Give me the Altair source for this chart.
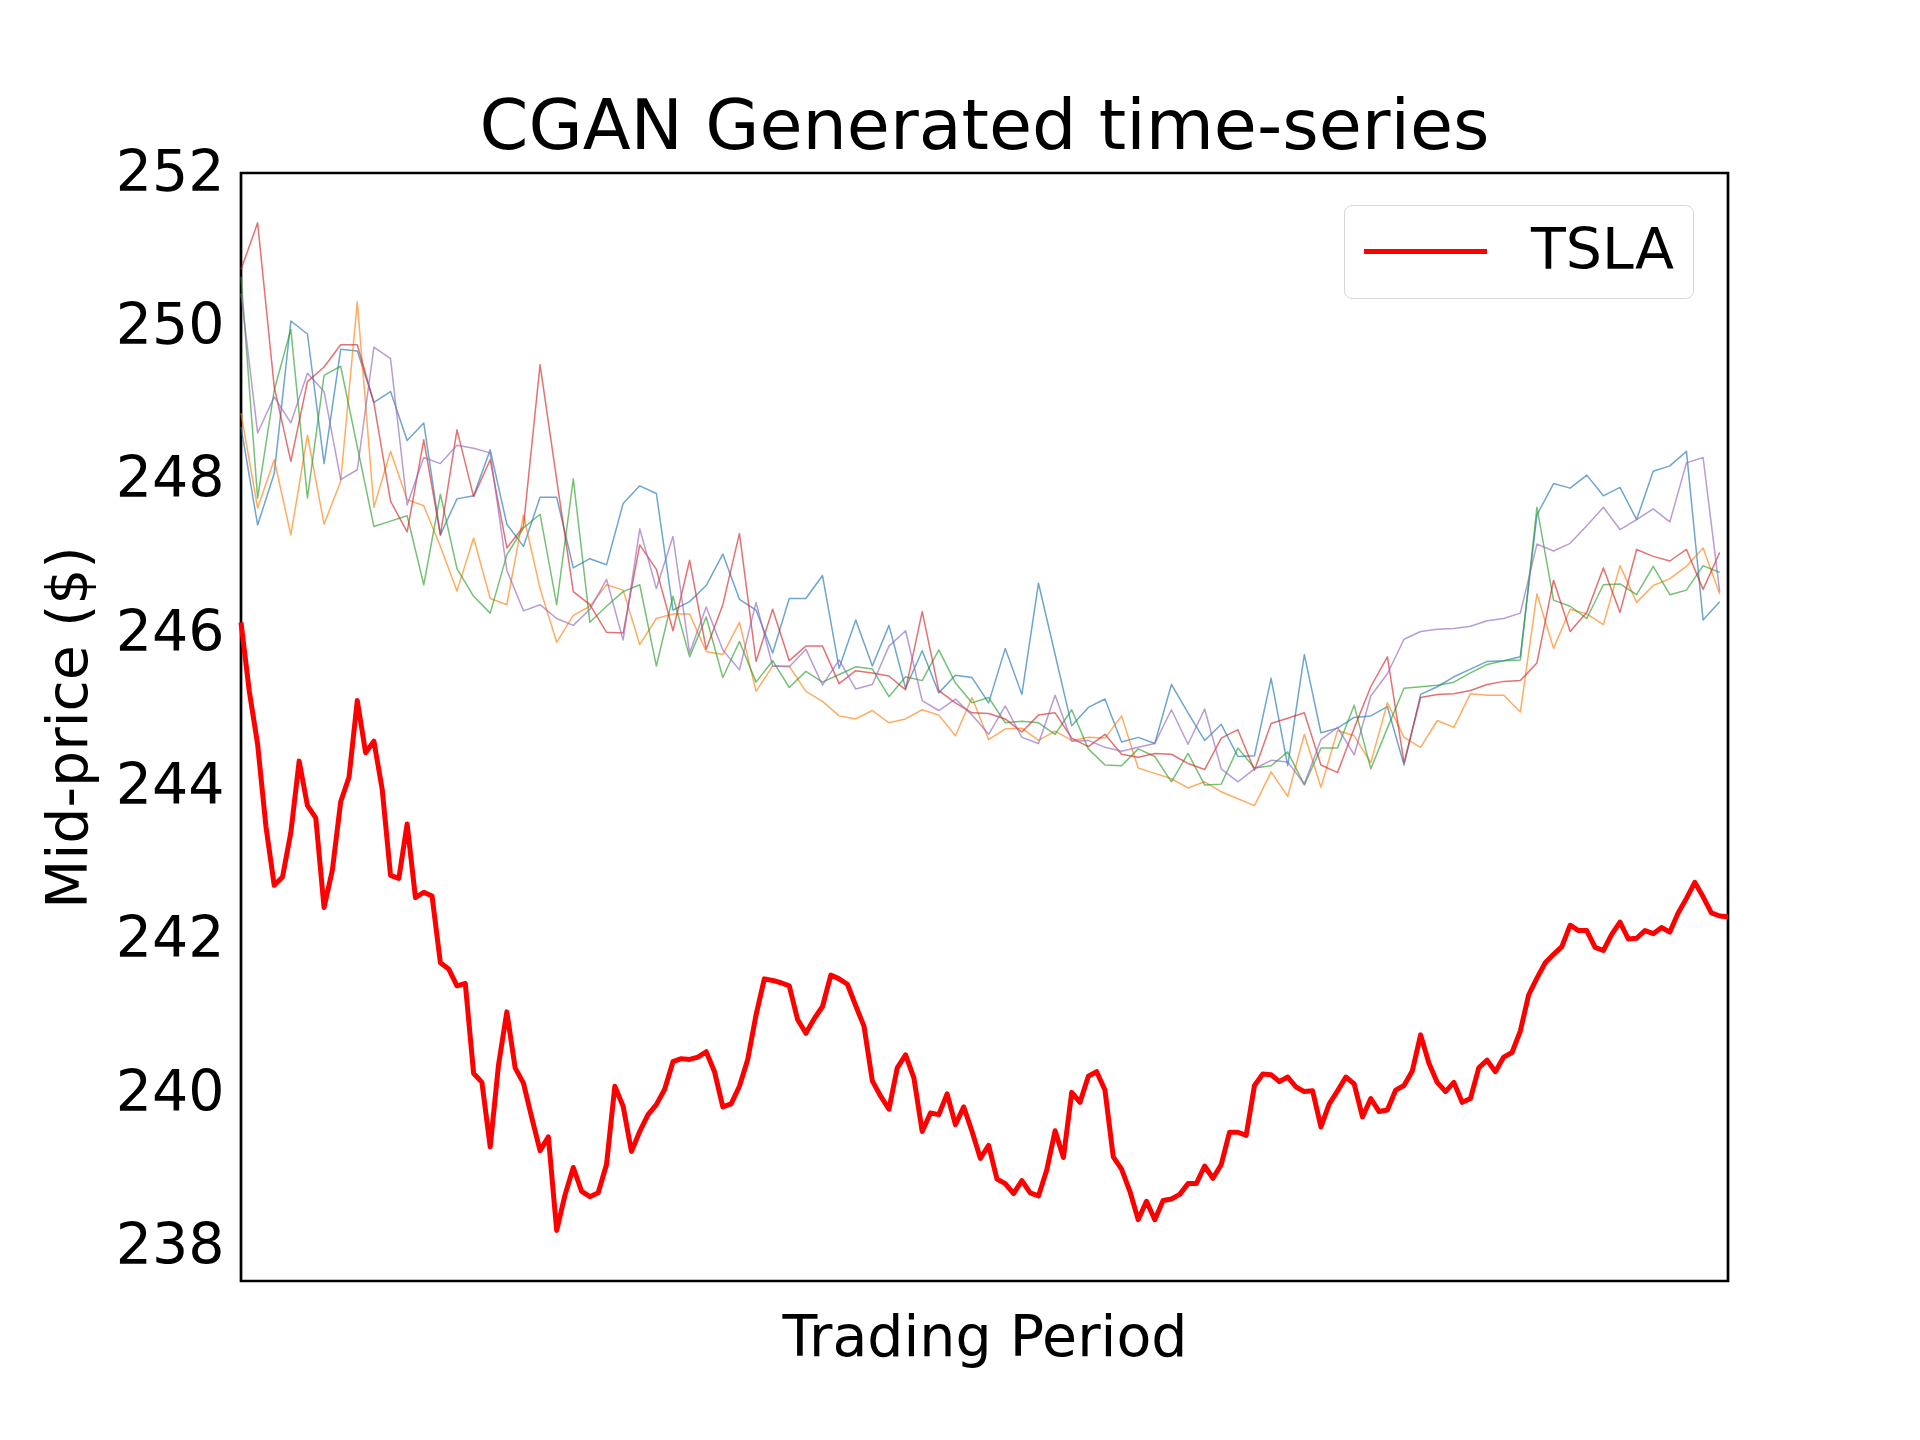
import altair as alt
import pandas as pd

# TSLA mid-price, 180 trading steps
tsla = [
    246.14, 245.24, 244.55, 243.48, 242.71, 242.82, 243.40, 244.33, 243.75, 243.59,
    242.42, 242.91, 243.80, 244.12, 245.12, 244.44, 244.59, 243.96, 242.84, 242.80,
    243.51, 242.55, 242.62, 242.57, 241.70, 241.62, 241.40, 241.43, 240.26, 240.14,
    239.30, 240.37, 241.06, 240.33, 240.13, 239.68, 239.25, 239.43, 238.21, 238.67,
    239.03, 238.72, 238.65, 238.70, 239.07, 240.09, 239.83, 239.24, 239.50, 239.72,
    239.85, 240.05, 240.41, 240.45, 240.44, 240.47, 240.54, 240.28, 239.82, 239.86,
    240.09, 240.44, 241.02, 241.49, 241.47, 241.44, 241.40, 240.96, 240.78, 240.97,
    241.13, 241.54, 241.49, 241.42, 241.14, 240.87, 240.16, 239.96, 239.79, 240.33,
    240.50, 240.20, 239.50, 239.74, 239.72, 239.99, 239.59, 239.82, 239.50, 239.15,
    239.32, 238.88, 238.82, 238.69, 238.86, 238.70, 238.66, 239.00, 239.51, 239.16,
    240.01, 239.88, 240.22, 240.28, 240.04, 239.17, 239.01, 238.72, 238.35, 238.59,
    238.35, 238.60, 238.62, 238.68, 238.82, 238.82, 239.05, 238.89, 239.07, 239.49,
    239.49, 239.45, 240.10, 240.25, 240.24, 240.15, 240.21, 240.08, 240.02, 240.03,
    239.56, 239.86, 240.03, 240.21, 240.12, 239.69, 239.93, 239.76, 239.78, 240.04,
    240.10, 240.29, 240.76, 240.39, 240.14, 240.02, 240.14, 239.88, 239.93, 240.33,
    240.43, 240.28, 240.47, 240.53, 240.81, 241.28, 241.50, 241.70, 241.81, 241.91,
    242.19, 242.12, 242.12, 241.90, 241.86, 242.07, 242.23, 242.01, 242.02, 242.12,
    242.08, 242.16, 242.10, 242.35, 242.54, 242.75, 242.56, 242.35, 242.31, 242.30,
]

# Five CGAN generated series, one value every 2 steps (90 points each)
gen_blue = [
    248.69, 247.41, 248.08, 250.07, 249.90, 248.21, 249.70, 249.68, 249.01, 249.15,
    248.51, 248.74, 247.28, 247.75, 247.79, 248.39, 247.42, 247.13, 247.77,
    247.77, 246.85, 246.97, 246.89, 247.69, 247.92, 247.82, 246.30, 246.41, 246.62,
    247.03, 246.44, 246.30, 245.74, 246.45, 246.45, 246.75, 245.54,
    246.17, 245.57, 246.10, 245.28, 245.77, 245.22, 245.45, 245.42, 245.09, 245.80,
    245.20, 246.65, 245.72, 244.79, 245.03, 245.14, 244.58, 244.64,
    244.56, 245.33, 244.96, 244.60, 244.81, 244.39, 244.40, 245.41, 244.27, 245.72,
    244.70, 244.76, 244.90, 244.92, 245.04, 244.28, 245.20, 245.30,
    245.43, 245.53, 245.63, 245.64, 245.69, 247.54, 247.95, 247.89, 248.06, 247.79,
    247.90, 247.48, 248.11, 248.18, 248.37, 246.17, 246.41,
]
gen_orange = [
    248.87, 247.63, 248.26, 247.28, 248.58, 247.42, 247.98, 250.32, 247.64, 248.37,
    247.74, 247.66, 247.13, 246.55, 247.24, 246.45, 246.37, 247.54, 246.58,
    245.88, 246.23, 246.35, 246.63, 246.56, 245.85, 246.19, 246.25, 246.25, 245.76,
    245.72, 246.14, 245.24, 245.57, 245.57, 245.24, 245.11, 244.92,
    244.88, 244.99, 244.83, 244.88, 245.00, 244.93, 244.66, 245.16, 244.61, 244.75,
    244.76, 244.60, 244.72, 244.60, 244.64, 244.63, 244.92, 244.24,
    244.17, 244.10, 243.98, 244.06, 243.93, 243.84, 243.75, 244.19, 243.87, 244.68,
    243.99, 244.73, 244.66, 244.31, 245.09, 244.64, 244.51, 244.86,
    244.77, 245.21, 245.19, 245.19, 244.97, 246.51, 245.80, 246.31, 246.25, 246.11,
    246.88, 246.40, 246.62, 246.71, 246.87, 247.11, 246.51,
]
gen_green = [
    250.65, 247.76, 249.17, 249.96, 247.76, 249.36, 249.48, 248.43, 247.39, 247.46,
    247.53, 246.63, 247.81, 246.84, 246.48, 246.26, 247.02, 247.37, 247.55,
    246.37, 248.01, 246.14, 246.35, 246.54, 246.63, 245.57, 246.48, 245.69, 246.21,
    245.42, 245.89, 245.36, 245.64, 245.29, 245.50, 245.36, 245.46,
    245.56, 245.53, 245.17, 245.43, 245.38, 245.78, 245.35, 245.09, 245.16, 244.83,
    244.85, 244.83, 244.68, 245.00, 244.49, 244.28, 244.27, 244.49,
    244.39, 244.06, 244.43, 244.02, 244.03, 244.50, 244.24, 244.27, 244.45, 244.02,
    244.50, 244.50, 245.06, 244.23, 244.76, 245.28, 245.30, 245.32,
    245.36, 245.48, 245.59, 245.64, 245.65, 247.64, 246.43, 246.35, 246.19, 246.63,
    246.64, 246.50, 246.87, 246.50, 246.56, 246.88, 246.79,
]
gen_red = [
    250.74, 251.35, 249.21, 248.24, 249.28, 249.47, 249.76, 249.76, 249.00, 247.72,
    247.32, 248.52, 247.28, 248.65, 247.78, 248.26, 247.11, 247.39, 249.50,
    248.00, 246.54, 246.37, 246.01, 246.00, 247.15, 246.83, 246.03, 246.95, 245.79,
    246.37, 247.30, 245.63, 246.31, 245.64, 245.83, 245.83, 245.34,
    245.51, 245.48, 245.44, 245.26, 246.28, 245.25, 245.09, 244.96, 244.95, 244.88,
    244.71, 244.93, 244.96, 244.63, 244.52, 244.68, 244.42, 244.38,
    244.43, 244.42, 244.30, 244.22, 244.63, 244.74, 244.21, 244.82, 244.89, 244.96,
    244.28, 244.18, 244.76, 245.30, 245.69, 244.31, 245.16, 245.20,
    245.21, 245.25, 245.33, 245.37, 245.38, 245.61, 246.69, 246.02, 246.27, 246.85,
    246.27, 247.09, 247.00, 246.94, 247.09, 246.57, 247.05,
]
gen_purple = [
    250.43, 248.61, 249.08, 248.74, 249.39, 249.15, 248.00, 248.13, 249.73, 249.58,
    247.67, 248.29, 248.21, 248.45, 248.41, 248.35, 246.82, 246.29, 246.37,
    246.19, 246.10, 246.31, 246.70, 245.91, 247.36, 246.58, 247.26, 245.74, 246.34,
    245.78, 245.52, 246.40, 245.57, 245.56, 245.79, 245.32, 245.65,
    245.27, 245.33, 245.83, 246.03, 245.12, 244.99, 245.14, 244.93, 244.68, 245.05,
    244.64, 244.56, 245.19, 244.59, 244.60, 244.51, 244.46, 244.51,
    244.56, 245.00, 244.55, 245.01, 244.23, 244.06, 244.23, 244.34, 244.32, 244.03,
    244.61, 244.77, 244.41, 245.18, 245.47, 245.92, 246.02, 246.05,
    246.06, 246.09, 246.16, 246.19, 246.26, 247.16, 247.07, 247.17, 247.40, 247.64,
    247.35, 247.48, 247.62, 247.45, 248.22, 248.29, 246.54,
]

gen_names = ["g0", "g1", "g2", "g3", "g4"]
gen_colors = ["#1f77b4", "#ff7f0e", "#2ca02c", "#d62728", "#9467bd"]
gen_series = [gen_blue, gen_orange, gen_green, gen_red, gen_purple]
y_ticks = [238, 240, 242, 244, 246, 248, 250, 252]

FONT = "DejaVu Sans"

gen_rows = []
for name, vals in zip(gen_names, gen_series):
    for k, v in enumerate(vals):
        gen_rows.append({"series": name, "x": 2 * k, "y": v})
gen_df = pd.DataFrame(gen_rows)

tsla_df = pd.DataFrame({"x": list(range(len(tsla))), "y": tsla, "name": "TSLA"})

x_enc = alt.X(
    "x:Q",
    scale=alt.Scale(domain=[0, 179], nice=False, zero=False),
    axis=alt.Axis(
        title="Trading Period", labels=False, ticks=False, domain=False, grid=False,
        titleFont=FONT, titleFontSize=57, titleFontWeight="normal", titleColor="black",
        titleX=743.5, titleY=74, titleBaseline="alphabetic", titleAlign="center",
    ),
)
y_enc = alt.Y(
    "y:Q",
    scale=alt.Scale(domain=[237.55, 252], nice=False, zero=False),
    axis=alt.Axis(
        values=y_ticks, title="Mid-price ($)", tickSize=0, labelPadding=17,
        labelFont=FONT, labelFontSize=57, labelColor="black", labelFlush=False,
        labelOverlap=False, grid=False, domain=False,
        titleFont=FONT, titleFontSize=57, titleFontWeight="normal", titleColor="black",
        titleX=-155, titleY=554, titleAngle=270, titleBaseline="alphabetic",
        titleAlign="center",
    ),
)

gen_layer = alt.Chart(gen_df).mark_line(
    strokeWidth=1.5, opacity=0.65, strokeJoin="round"
).encode(
    x=x_enc,
    y=y_enc,
    color=alt.Color("series:N", scale=alt.Scale(domain=gen_names, range=gen_colors), legend=None),
)

tsla_layer = alt.Chart(tsla_df).mark_line(
    strokeWidth=5, strokeJoin="round"
).encode(
    x=x_enc,
    y=y_enc,
    color=alt.Color(
        "name:N",
        scale=alt.Scale(domain=["TSLA"], range=["#ff0000"]),
        legend=alt.Legend(
            title=None, orient="none", legendX=1103, legendY=32,
            symbolType="M-3,0H3", symbolSize=1681, symbolStrokeWidth=5,
            symbolOffset=35, labelFont=FONT, labelFontSize=57, labelColor="black",
            labelOffset=77, padding=18, strokeColor="#d6d6d6", fillColor="white",
            cornerRadius=8,
        ),
    ),
)

chart = alt.layer(gen_layer, tsla_layer).resolve_scale(color="independent").properties(
    width=1487,
    height=1108,
    background="white",
    autosize=alt.AutoSizeParams(type="none"),
    padding={"left": 233, "top": 165, "right": 180, "bottom": 140},
    title=alt.Title(
        "CGAN Generated time-series", font=FONT, fontSize=70, fontWeight="normal",
        color="black", anchor="middle", offset=23, baseline="alphabetic", dy=98,
    ),
).configure_view(stroke="black", strokeWidth=2.7)

chart.save("out.html", embed_options={"renderer": "svg", "actions": False})
